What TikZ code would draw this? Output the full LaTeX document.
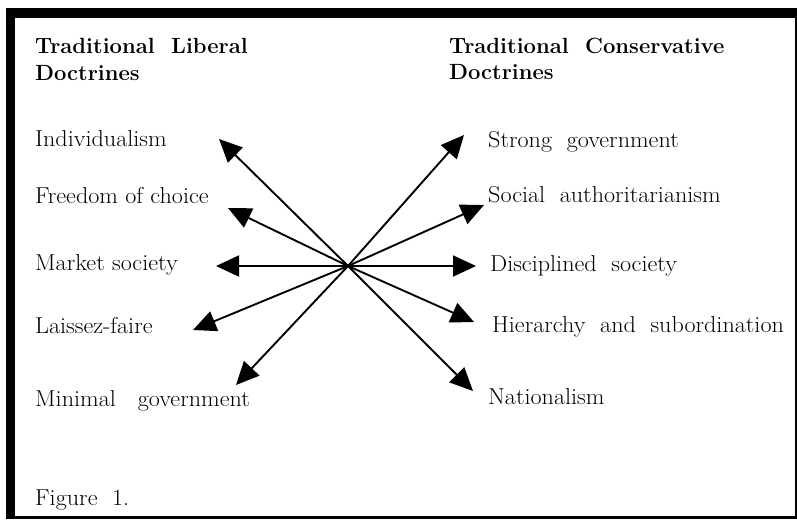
\documentclass[tikz,border=0pt]{standalone}
\usetikzlibrary{arrows.meta}
\tikzset{
  item/.style={anchor=base west, inner sep=0pt, xscale=1.05, font=\fontsize{23}{27}\selectfont},
  head/.style={anchor=base west, inner sep=0pt, font=\fontsize{22}{26}\selectfont\bfseries},
  arr/.style={line width=1.9pt, -{Triangle[length=23pt,width=21pt]}}
}
\begin{document}
\begin{tikzpicture}[x=1pt,y=1pt,yscale=-1]
\useasboundingbox (0,0) rectangle (797,520);

%Shape: Frame
\fill (6,8) rectangle (797,18);
\fill (6,8) rectangle (15,519);
\fill (15,516) rectangle (797,519);
\draw [line width=1.5pt] (796,18) -- (796,516);

% Text Node
\node [head] (libhead) at (35,53) {Traditional\ \ Liberal};
\node [head] (libdoc) at (35,80) {Doctrines};
\node [head] (conhead) at (449,53) {Traditional\ \ Conservative};
\node [head] (condoc) at (449,79) {Doctrines};

% Text Node
\node [item] (indiv) at (35,146) {Individualism};
\node [item] (choice) at (35,203) {Freedom of choice};
\node [item] (market) at (35,270) {Market society};
\node [item] (laissez) at (35,333) {Laissez-faire};
\node [item] (minimal) at (35,406) {Minimal\ \ \ government};

% Text Node
\node [item] (strong) at (488,147) {Strong\ \ government};
\node [item] (social) at (488,202) {Social\ \ authoritarianism};
\node [item] (disciplined) at (490,271) {Disciplined\ \ society};
\node [item] (hierarchy) at (492,332) {Hierarchy\ \ and\ \ subordination};
\node [item] (nation) at (488,404) {Nationalism};

\node [item] (fig) at (35,505) {Figure\ \ 1.};

%Straight Lines
\coordinate (hub) at (348,266);
\coordinate (indiv-tip) at (219,139);
\coordinate (choice-tip) at (228,208);
\coordinate (market-tip) at (216,266);
\coordinate (laissez-tip) at (193,330);
\coordinate (minimal-tip) at (236,385);
\coordinate (strong-tip) at (464,135);
\coordinate (social-tip) at (484,205);
\coordinate (disciplined-tip) at (476,266);
\coordinate (hierarchy-tip) at (474,322);
\coordinate (nation-tip) at (473,391);

\foreach \t in {indiv,choice,market,laissez,minimal,strong,social,disciplined,hierarchy,nation}
  \draw [arr] (hub) -- (\t-tip);

\end{tikzpicture}
\end{document}
